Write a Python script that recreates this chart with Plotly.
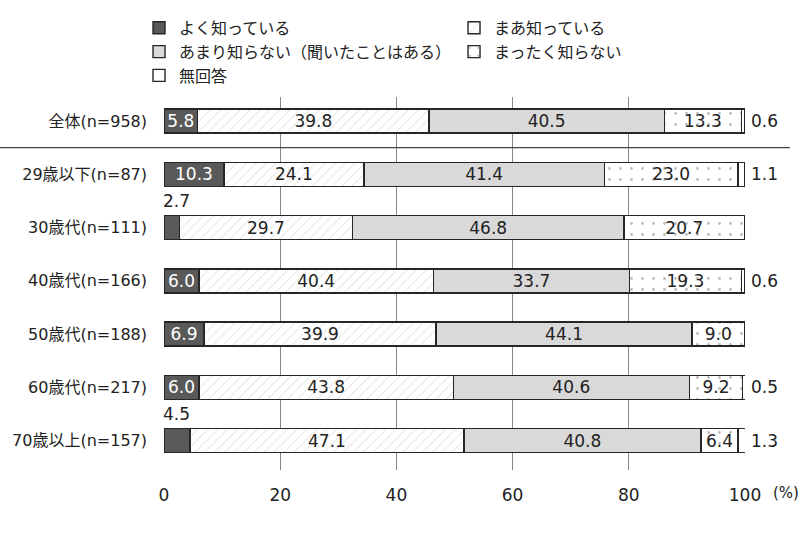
import plotly.graph_objects as go

# data (%)
groups = ["全体(n=958)", "29歳以下(n=87)", "30歳代(n=111)", "40歳代(n=166)",
          "50歳代(n=188)", "60歳代(n=217)", "70歳以上(n=157)"]
answers = ["よく知っている", "まあ知っている", "あまり知らない（聞いたことはある）",
           "まったく知らない", "無回答"]
know_well = [5.8, 10.3, 2.7, 6.0, 6.9, 6.0, 4.5]
know_some = [39.8, 24.1, 29.7, 40.4, 39.9, 43.8, 47.1]
barely = [40.5, 41.4, 46.8, 33.7, 44.1, 40.6, 40.8]
not_at_all = [13.3, 23.0, 20.7, 19.3, 9.0, 9.2, 6.4]
no_answer = [0.6, 1.1, 0.0, 0.6, 0.0, 0.5, 1.3]
series = [know_well, know_some, barely, not_at_all, no_answer]

FONT = "DejaVu Sans, Noto Sans CJK JP"
styles = [
    dict(color="#595959", pattern=dict(shape=""), tc="white"),
    dict(color="white", pattern=dict(shape="/", fgcolor="#b8b8b8", bgcolor="white",
                                     size=7, solidity=0.14), tc="#222"),
    dict(color="#d9d9d9", pattern=dict(shape=""), tc="#222"),
    dict(color="white", pattern=dict(shape=".", fgcolor="#777", bgcolor="white",
                                     size=11, solidity=0.05), tc="#222"),
    dict(color="white", pattern=dict(shape=""), tc="#222"),
]

fig = go.Figure()
for name, vals, st in zip(answers, series, styles):
    txt = ["%.1f" % v if v >= 5 else "" for v in vals]
    fig.add_trace(go.Bar(
        y=groups, x=vals, name=name, orientation="h",
        text=txt, textposition="inside", insidetextanchor="middle", textangle=0,
        textfont=dict(size=17, color=st["tc"], family=FONT),
        marker=dict(color=st["color"], pattern=st["pattern"],
                    line=dict(color="#262626", width=1.4)),
        width=0.45, hoverinfo="skip",
    ))

# small values drawn outside the bars
ann = []
for i, g in enumerate(groups):
    if 0 < know_well[i] < 5:
        ann.append(dict(x=0, y=g, text="%.1f" % know_well[i], xanchor="left",
                        xshift=-3, yshift=27, showarrow=False,
                        font=dict(size=17, color="#222")))
    if 0 < no_answer[i] < 5:
        ann.append(dict(x=100, y=g, text="%.1f" % no_answer[i], xanchor="left",
                        xshift=4, showarrow=False, font=dict(size=17, color="#222")))
ann.append(dict(xref="paper", yref="paper", x=1, y=0, text="(%)", xanchor="left",
                yanchor="top", xshift=26, yshift=-12, showarrow=False,
                font=dict(size=15, color="#222")))

fig.update_layout(
    width=802, height=534, barmode="stack",
    margin=dict(l=164, r=57, t=97, b=64, autoexpand=False),
    plot_bgcolor="white", paper_bgcolor="white",
    font=dict(family=FONT, size=17, color="#222"),
    uniformtext=dict(minsize=17, mode="show"),
    annotations=ann,
    legend=dict(orientation="h", x=-0.043, y=1.011, xanchor="left", yanchor="bottom",
                traceorder="normal", entrywidth=270, tracegroupgap=0,
                font=dict(size=16), itemclick=False),
    shapes=[dict(type="line", xref="paper", yref="y", x0=-0.3, x1=626 / 581,
                 y0=0.5, y1=0.5, line=dict(color="#444", width=1.2))],
)
fig.update_xaxes(range=[0, 100], tickvals=[0, 20, 40, 60, 80, 100],
                 showgrid=True, gridcolor="#888", gridwidth=1.2,
                 zeroline=False, showline=False, ticks="", ticklabelstandoff=13,
                 tickfont=dict(size=17), automargin=False)
fig.update_yaxes(range=[6.55, -0.45], autorange=False, showgrid=False,
                 ticks="", ticklabelstandoff=16, tickfont=dict(size=16),
                 automargin=False)

# drop the page's default body margin so the figure fills the window exactly
fig.write_html("out.html", config={"displayModeBar": False},
               post_script="document.body.style.margin='0';")
